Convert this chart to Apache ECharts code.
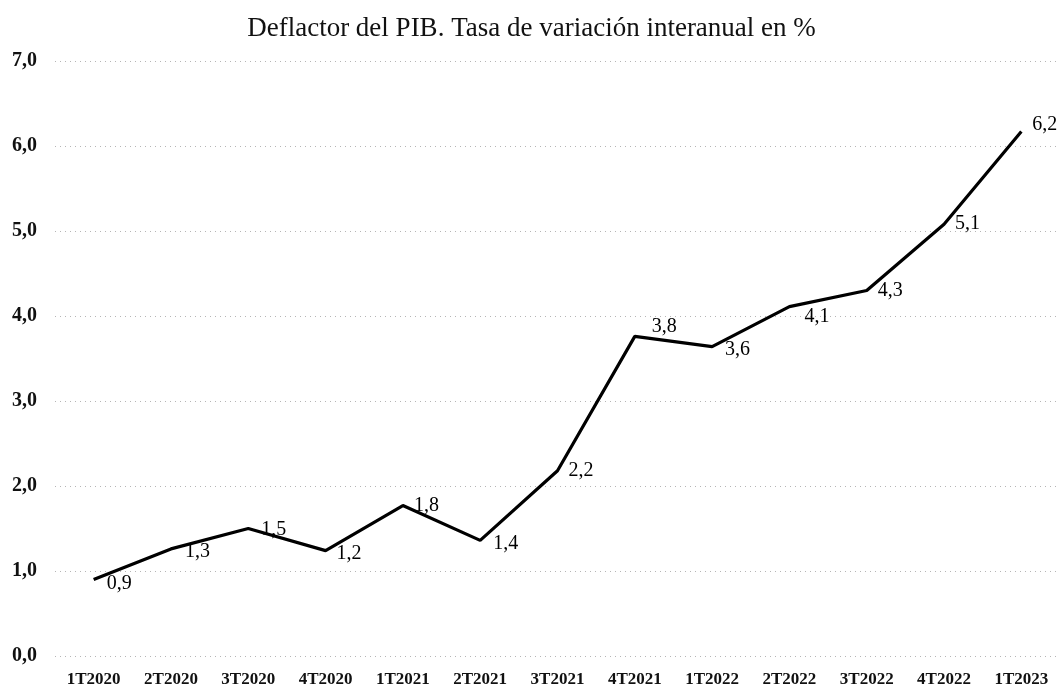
<!DOCTYPE html>
<html>
<head>
<meta charset="utf-8">
<script src="https://cdn.jsdelivr.net/npm/echarts@6/dist/echarts.min.js"></script>
<style>
  html, body { margin: 0; padding: 0; background: #fff; }
  #chart { width: 1063px; height: 688px; }
</style>
</head>
<body>
<div id="chart"></div>
<script>
// Deflactor del PIB, tasa interanual (%)
const quarters = [
    '1T2020', '2T2020', '3T2020', '4T2020',
    '1T2021', '2T2021', '3T2021', '4T2021',
    '1T2022', '2T2022', '3T2022', '4T2022',
    '1T2023',
]
const deflactor = [0.9, 1.26, 1.5, 1.24, 1.77, 1.36, 2.18, 3.76, 3.64, 4.11, 4.3, 5.08, 6.17]
const yTicks = { min: 0, max: 7, interval: 1 }

const fmt = v => v.toFixed(1).replace('.', ',')
const serif = '"Liberation Serif", "DejaVu Serif", serif'

// small label nudges, like the hand-placed labels in the original
const labelNudge = {
    0: [2, 4], 1: [3, 3], 2: [2, 1], 3: [0, 3], 5: [2, 3], 7: [6, -10], 8: [2, 3], 9: [4, 10], 12: [0, -7],
}

const chart = echarts.init(document.getElementById('chart'))

chart.setOption({
    animation: false,
    title: {
        text: 'Deflactor del PIB. Tasa de variación interanual en %',
        left: 'center',
        top: 10,
        textStyle: { fontFamily: serif, fontSize: 27, fontWeight: 'normal', color: '#111' },
    },
    grid: { left: 55, right: 3, top: 61, bottom: 31 },
    xAxis: {
        type: 'category',
        data: quarters,
        boundaryGap: true,
        axisLine: { show: false },
        axisTick: { show: false },
        axisLabel: { fontFamily: serif, fontSize: 17, fontWeight: 'bold', color: '#111', margin: 15 },
    },
    yAxis: {
        type: 'value',
        min: yTicks.min,
        max: yTicks.max,
        interval: yTicks.interval,
        axisLine: { show: false },
        axisTick: { show: false },
        splitLine: { lineStyle: { color: '#b5b5b5', type: [1, 4], width: 1 } },
        axisLabel: {
            fontFamily: serif, fontSize: 20, fontWeight: 'bold', color: '#111',
            align: 'left', margin: 43,
            formatter: v => fmt(v),
        },
    },
    series: [{
        type: 'line',
        data: deflactor,
        showSymbol: true,
        symbol: 'circle',
        symbolSize: 2,
        itemStyle: { color: 'rgba(0,0,0,0)', borderWidth: 0 },
        lineStyle: { color: '#000', width: 3.2 },
        labelLayout: p => {
            const n = labelNudge[p.dataIndex] || [0, 0]
            return { dx: n[0], dy: n[1], hideOverlap: false }
        },
        label: {
            show: true,
            position: 'right',
            distance: 10,
            fontFamily: serif,
            fontSize: 20,
            color: '#000',
            formatter: p => fmt(p.value),
        },
    }],
})
</script>
</body>
</html>
